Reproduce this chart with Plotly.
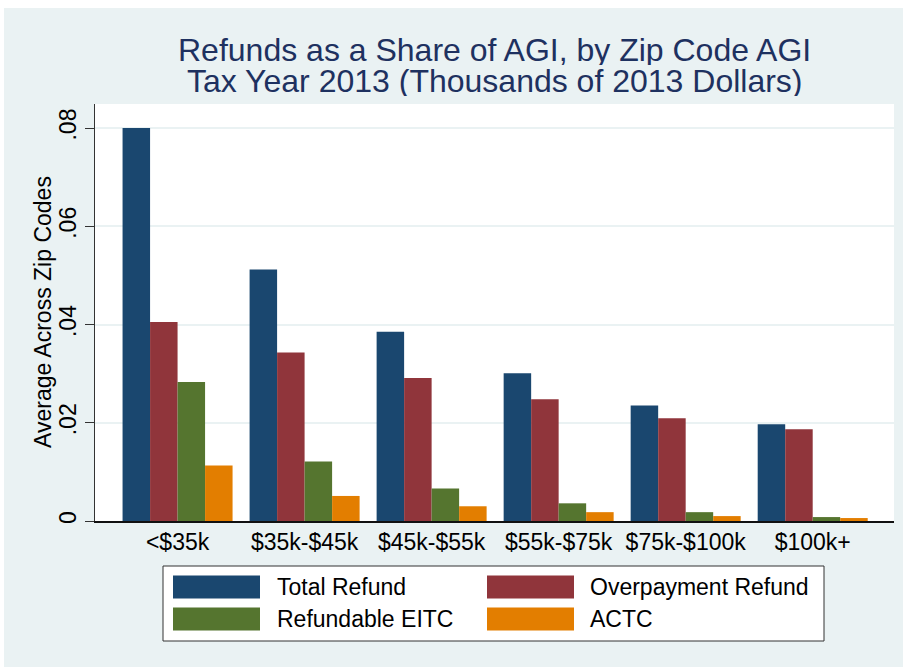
import plotly.graph_objects as go

categories = ["<$35k", "$35k-$45k", "$45k-$55k", "$55k-$75k", "$75k-$100k", "$100k+"]
series_names = ["Total Refund", "Overpayment Refund", "Refundable EITC", "ACTC"]
total_refund = [0.0800, 0.0512, 0.0385, 0.0301, 0.0235, 0.0197]
overpayment_refund = [0.0405, 0.0343, 0.0291, 0.0248, 0.0209, 0.0187]
refundable_eitc = [0.0283, 0.0121, 0.0066, 0.0036, 0.0018, 0.0008]
actc = [0.0113, 0.0051, 0.0030, 0.0018, 0.0010, 0.0006]
y_tick_vals = [0, 0.02, 0.04, 0.06, 0.08]
y_tick_text = ["0", ".02", ".04", ".06", ".08"]
y_title = "Average Across Zip Codes"

series_values = [total_refund, overpayment_refund, refundable_eitc, actc]
colors = ["#1A476F", "#90353B", "#55752F", "#E37E00"]

# page offset (white strip at top/left of the reference image)
OX, OY = 4, 8
W, H = 903 - OX, 667 - OY
L, R, T, B = 95 - OX, 9, 104 - OY, 146
PW, PH = W - L - R, H - T - B
FONT = "Liberation Sans, Arial, sans-serif"
BG = "#EAF2F3"


def px2x(px):
    return (px - OX - L) / PW


def py2y(py):
    return (H - B - (py - OY)) / PH


fig = go.Figure()
for name, vals, col in zip(series_names, series_values, colors):
    fig.add_trace(go.Bar(x=categories, y=vals, name=name,
                         marker=dict(color=col, line=dict(width=0)),
                         showlegend=False))

shapes = []
annotations = []

# legend box
shapes.append(dict(type="rect", xref="paper", yref="paper", x0=px2x(163), x1=px2x(824),
                   y0=py2y(641), y1=py2y(566), fillcolor="white",
                   line=dict(color="#333333", width=1)))
leg_pos = [(173, 275, 587), (487, 588, 587), (173, 275, 619), (487, 588, 619)]
for (sx, tx, cy), name, col in zip(leg_pos, series_names, colors):
    shapes.append(dict(type="rect", xref="paper", yref="paper", x0=px2x(sx), x1=px2x(sx + 87),
                       y0=py2y(cy + 11.5), y1=py2y(cy - 11.5), fillcolor=col, line=dict(width=0)))
    annotations.append(dict(text=name, xref="paper", yref="paper", x=px2x(tx), y=py2y(cy),
                            xanchor="left", yanchor="middle", showarrow=False,
                            font=dict(family=FONT, size=23, color="black")))

# title lines
title_color = "#1E3160"
for txt, cy in [("Refunds as a Share of AGI, by Zip Code AGI", 50),
                ("Tax Year 2013 (Thousands of 2013 Dollars)", 81)]:
    annotations.append(dict(text=txt, xref="paper", yref="paper",
                            x=0.5, y=py2y(cy), xanchor="center", yanchor="middle",
                            height=30, valign="middle", showarrow=False,
                            font=dict(family=FONT, size=32, color=title_color)))

# y-axis title
annotations.append(dict(text=y_title, xref="paper", yref="paper", x=px2x(43), y=py2y(312),
                        xanchor="center", yanchor="middle", textangle=-90, showarrow=False,
                        font=dict(family=FONT, size=23, color="black")))

fig.update_layout(
    width=W, height=H,
    margin=dict(l=L, r=R, t=T, b=B, autoexpand=False),
    paper_bgcolor=BG, plot_bgcolor="white",
    barmode="group", bargap=0.134, bargroupgap=0,
    font=dict(family=FONT, size=23, color="black"),
    shapes=shapes, annotations=annotations,
    showlegend=False,
)
fig.update_xaxes(range=[-0.65, 5.64], showline=True, linecolor="#111111", linewidth=1.5,
                 ticks="", showgrid=False, tickfont=dict(size=23, color="black"),
                 ticklabelstandoff=0)
fig.update_yaxes(range=[0, PH / 4912.5], showline=True, linecolor="#333333", linewidth=1,
                 ticks="outside", ticklen=9, tickcolor="#333333", tickwidth=1,
                 tickvals=y_tick_vals, ticktext=y_tick_text, tickangle=-90,
                 tickfont=dict(size=23, color="black"), ticklabelstandoff=0,
                 showgrid=True, gridcolor=BG, gridwidth=2, zeroline=False)

fig.write_html("out.html",
               post_script="document.body.style.margin='%dpx 0 0 %dpx';"
                           "document.body.style.background='white';"
                           "document.body.style.overflow='hidden';" % (OY, OX))
